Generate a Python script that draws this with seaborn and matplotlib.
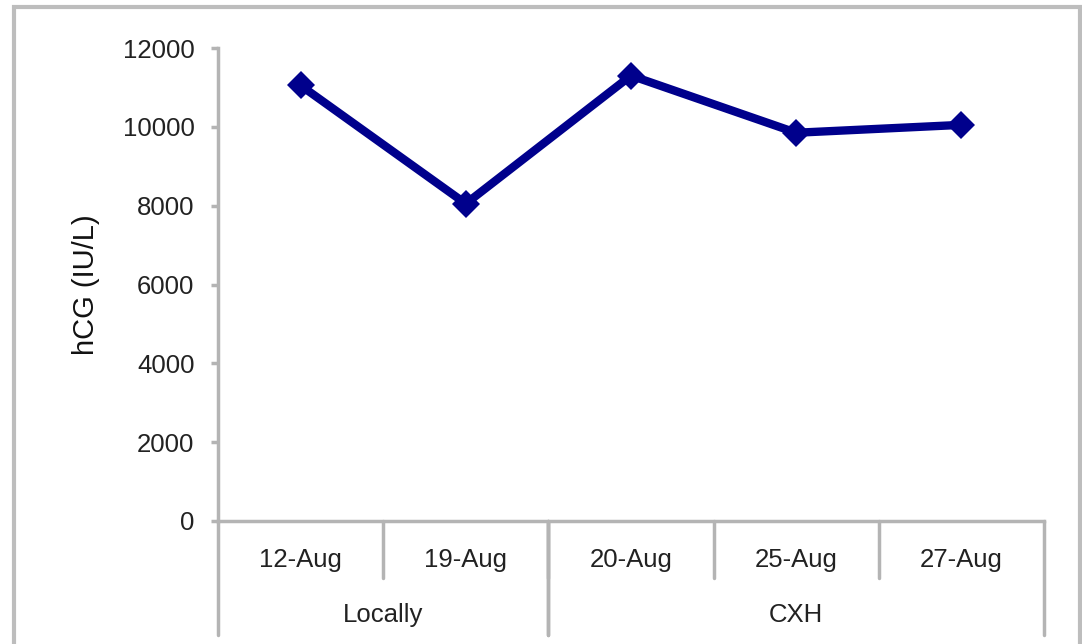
import matplotlib
matplotlib.use("Agg")
import matplotlib.pyplot as plt
from matplotlib.patches import Rectangle
import seaborn as sns
import pandas as pd

dates = ["12-Aug", "19-Aug", "20-Aug", "25-Aug", "27-Aug"]
sites = ["Locally", "Locally", "CXH", "CXH", "CXH"]
hcg = [11050, 8050, 11300, 9850, 10050]
y_ticks = [0, 2000, 4000, 6000, 8000, 10000, 12000]

df = pd.DataFrame({"date": dates, "site": sites, "hcg": hcg})

sns.set_theme(style="white")
plt.rcParams["font.family"] = ["Liberation Sans", "DejaVu Sans"]

fig = plt.figure(figsize=(10.82, 6.44), dpi=100)
ax = fig.add_axes([218 / 1082, 1 - 521 / 644, (1044 - 218) / 1082, (521 - 48) / 644])

grey = "#b4b4b4"
navy = "#00008c"
txt = "#222222"
fs = 18.5

sns.lineplot(data=df, x="date", y="hcg", sort=False, ax=ax, color=navy,
             linewidth=6, marker="D", markersize=14, markeredgewidth=0)

ax.set_xlim(-0.5, len(dates) - 0.5)
ax.set_ylim(0, 12000)
ax.set_yticks(y_ticks)
ax.set_yticklabels([str(v) for v in y_ticks], fontsize=fs, color=txt)
ax.tick_params(axis="y", left=True, direction="out", length=5, width=2.5,
               color=grey, pad=12)
ax.set_xticks([])
ax.set_xlabel("")
ax.set_ylabel("hCG (IU/L)", fontsize=21, color="#111111", labelpad=16)

for side in ["top", "right"]:
    ax.spines[side].set_visible(False)
for side in ["left", "bottom"]:
    ax.spines[side].set_color(grey)
    ax.spines[side].set_linewidth(2.5)

# Two-level category axis: dates on the first row, sites below
trans = ax.get_xaxis_transform()
row1 = -0.12
row2 = -0.24
for i, d in enumerate(dates):
    ax.text(i, -0.082, d, transform=trans, ha="center", va="center",
            fontsize=fs, color=txt)
# separators between dates (short)
for b in range(1, len(dates)):
    ax.plot([b - 0.5, b - 0.5], [0, row1], transform=trans, color=grey,
            linewidth=2.5, clip_on=False)

groups = []
for i, s in enumerate(sites):
    if groups and groups[-1][0] == s:
        groups[-1][2] = i
    else:
        groups.append([s, i, i])
for s, a, b in groups:
    ax.text((a + b) / 2, -0.198, s, transform=trans, ha="center", va="center",
            fontsize=fs, color=txt)
    for edge in (a - 0.5, b + 0.5):
        ax.plot([edge, edge], [0, row2], transform=trans, color=grey,
                linewidth=2.5, clip_on=False)

# outer chart-area frame
fig.patches.append(Rectangle((14 / 1082, -0.1), (1080 - 14) / 1082, 1 - 7 / 644 + 0.1,
                             transform=fig.transFigure, fill=False,
                             edgecolor="#bdbdbd", linewidth=3))

fig.savefig("out.png", dpi=100)
